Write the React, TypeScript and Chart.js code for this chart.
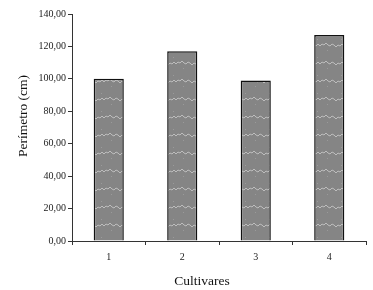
import React, { useEffect, useRef } from "react";
import { Chart, registerables } from "chart.js";

Chart.register(...registerables);

const categories = ["1", "2", "3", "4"];
const perimetro = [100, 117, 99, 127];
const yTitle = "Perímetro (cm)";
const xTitle = "Cultivares";

function makePattern(): CanvasPattern | string {
  const c = document.createElement("canvas");
  c.width = 24;
  c.height = 18;
  const g = c.getContext("2d");
  if (!g) return "#858585";
  g.fillStyle = "#858585";
  g.fillRect(0, 0, 24, 18);
  g.strokeStyle = "#bdbdbd";
  g.lineWidth = 1;
  g.beginPath();
  const ys = [11, 9, 10, 8, 10, 8, 9, 7, 9, 10, 8, 9, 11];
  ys.forEach((y, i) => {
    const x = i * 2;
    if (i === 0) g.moveTo(x, y);
    else g.lineTo(x, y);
  });
  g.stroke();
  g.fillStyle = "#9a9a9a";
  g.fillRect(5, 3, 1, 1);
  g.fillRect(15, 14, 1, 1);
  const ctx = document.createElement("canvas").getContext("2d");
  return (ctx && ctx.createPattern(c, "repeat")) || "#858585";
}

const titlesPlugin = {
  id: "customTitles",
  afterDraw(chart: any) {
    const ctx = chart.ctx;
    ctx.save();
    ctx.fillStyle = "#111";
    ctx.font = "13.5px 'Liberation Serif', serif";
    ctx.textAlign = "center";
    ctx.textBaseline = "middle";
    ctx.fillText(xTitle, 202, 281);
    ctx.translate(23, 116);
    ctx.rotate(-Math.PI / 2);
    ctx.fillText(yTitle, 0, 0);
    ctx.restore();
  },
};

export default function App() {
  const ref = useRef<HTMLCanvasElement>(null);
  useEffect(() => {
    if (!ref.current) return;
    const pattern = makePattern();
    const chart = new Chart(ref.current, {
      type: "bar",
      data: {
        labels: categories,
        datasets: [
          {
            data: perimetro,
            backgroundColor: pattern as any,
            borderColor: "#111",
            borderWidth: 1.5,
            categoryPercentage: 1,
            barPercentage: 0.41,
          },
        ],
      },
      options: {
        animation: false,
        responsive: false,
        maintainAspectRatio: false,
        layout: { padding: { top: 14, right: 7, left: 0, bottom: 0 } },
        plugins: { legend: { display: false }, tooltip: { enabled: false }, title: { display: false } },
        scales: {
          x: {
            offset: true,
            grid: { offset: true, drawOnChartArea: false, drawTicks: true, tickLength: 4, color: "#333" },
            border: { display: true, color: "#333", width: 1 },
            ticks: { color: "#222", font: { family: "'Liberation Serif', serif", size: 10 }, padding: 6 },
            afterFit: (s: any) => {
              s.height = 49;
            },
          },
          y: {
            min: 0,
            max: 140,
            grid: { drawOnChartArea: false, drawTicks: true, tickLength: 4, color: "#333" },
            border: { display: true, color: "#333", width: 1 },
            ticks: {
              stepSize: 20,
              color: "#222",
              padding: 2,
              font: { family: "'Liberation Serif', serif", size: 10 },
              callback: (v: any) => Number(v).toFixed(2).replace(".", ","),
            },
            afterFit: (s: any) => {
              s.width = 72;
            },
          },
        },
      },
      plugins: [titlesPlugin],
    });
    return () => chart.destroy();
  }, []);
  return (
    <div style={{ position: "absolute", left: 0, top: 0, width: 373, height: 290, background: "#fff" }}>
      <canvas ref={ref} width={373} height={290} />
    </div>
  );
}
